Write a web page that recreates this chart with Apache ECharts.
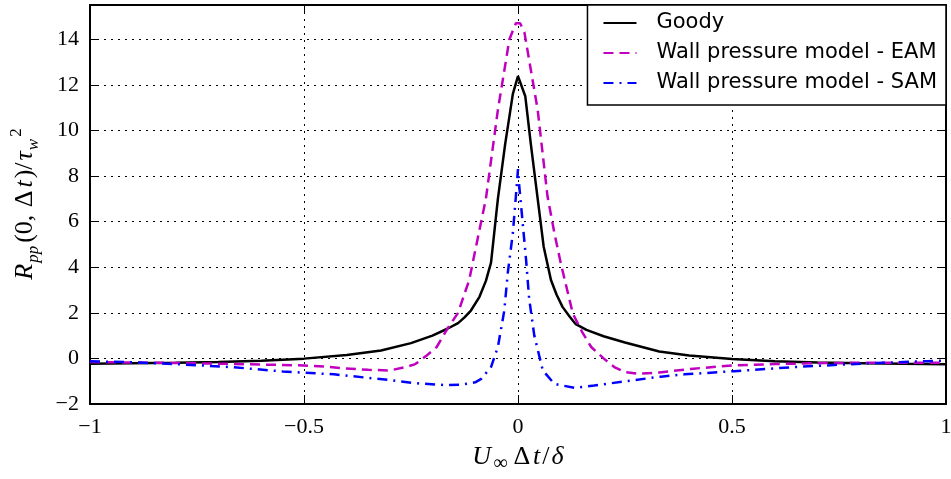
<!DOCTYPE html>
<html>
<head>
<meta charset="utf-8">
<script src="https://cdn.jsdelivr.net/npm/echarts@6/dist/echarts.min.js"></script>
<style>
  html, body { margin: 0; padding: 0; background: #fff; }
  #chart { width: 951px; height: 479px; }
</style>
</head>
<body>
<div id="chart"></div>
<script>
// series names
var seriesNames = ['Goody', 'Wall pressure model - EAM', 'Wall pressure model - SAM'];

// Goody
var goodyX = [-1, -0.9, -0.8, -0.7, -0.6, -0.5, -0.4, -0.32, -0.25, -0.2, -0.165, -0.14, -0.125, -0.11, -0.09, -0.075, -0.063, -0.047, -0.03, -0.012, 0,
    0.017, 0.03, 0.046, 0.06, 0.077, 0.09, 0.104, 0.12, 0.135, 0.16, 0.2, 0.25, 0.33, 0.4, 0.5, 0.6, 0.7, 0.8, 0.9, 1];
var goodyY = [-0.23, -0.21, -0.19, -0.16, -0.1, -0.01, 0.15, 0.35, 0.67, 1.0, 1.3, 1.55, 1.8, 2.1, 2.7, 3.4, 4.2, 7.0, 9.4, 11.6, 12.38,
    11.5, 9.4, 7.0, 4.9, 3.44, 2.8, 2.26, 1.85, 1.5, 1.25, 0.97, 0.7, 0.3, 0.13, -0.03, -0.12, -0.18, -0.21, -0.24, -0.26];

// EAM
var eamX = [-1, -0.9, -0.8, -0.7, -0.6, -0.5, -0.45, -0.41, -0.35, -0.3, -0.26, -0.24, -0.215, -0.19, -0.165, -0.14, -0.114, -0.09, -0.075, -0.047, -0.02, -0.005,
    0.005, 0.015, 0.046, 0.069, 0.085, 0.1, 0.128, 0.15, 0.171, 0.2, 0.225, 0.25, 0.28, 0.33, 0.41, 0.5, 0.6, 0.72, 0.85, 1];
var eamY = [-0.16, -0.18, -0.2, -0.23, -0.27, -0.31, -0.36, -0.43, -0.5, -0.53, -0.37, -0.25, 0.1, 0.5, 1.3, 2.0, 3.44, 5.64, 7.0, 10.9, 14.0, 14.7,
    14.7, 14.3, 10.9, 7.1, 5.5, 4.17, 1.97, 1.15, 0.5, 0.0, -0.38, -0.6, -0.67, -0.62, -0.45, -0.31, -0.25, -0.2, -0.19, -0.19];

// SAM
var samX = [-1, -0.92, -0.79, -0.67, -0.55, -0.43, -0.305, -0.24, -0.172, -0.133, -0.1, -0.086, -0.063, -0.047, -0.032, -0.024, -0.012, -0.005, 0,
    0.003, 0.011, 0.019, 0.026, 0.038, 0.058, 0.085, 0.132, 0.178, 0.264, 0.334, 0.389, 0.505, 0.646, 0.801, 0.957, 1];
var samY = [-0.13, -0.16, -0.26, -0.38, -0.57, -0.7, -0.94, -1.09, -1.17, -1.15, -1.05, -0.9, -0.38, 0.5, 2.1, 3.73, 5.5, 7.1, 8.3,
    7.55, 5.93, 4.3, 2.63, 1.01, -0.53, -1.12, -1.29, -1.19, -0.97, -0.8, -0.7, -0.56, -0.38, -0.23, -0.12, -0.1];

function zip(xs, ys) {
    var out = [];
    for (var i = 0; i < xs.length; i++) {
        out.push([xs[i], ys[i]]);
    }
    return out;
}

function fmtNum(v) {
    if (v < 0) {
        return '\u2212' + Math.abs(v);
    }
    return '' + v;
}

var serif = 'Liberation Serif';

// rich styles for the math axis titles
var mathRich = {
    i: { fontFamily: serif, fontStyle: 'italic', fontSize: 26, color: '#000', lineHeight: 34, padding: [0, 1, 0, 1] },
    n: { fontFamily: serif, fontSize: 26, color: '#000', lineHeight: 34, padding: [0, 1, 0, 1] },
    d: { fontFamily: serif, fontSize: 26, color: '#000', lineHeight: 34, padding: [0, 2, 0, 3] },
    s: { fontFamily: serif, fontStyle: 'italic', fontSize: 17, color: '#000', lineHeight: 17, verticalAlign: 'bottom', padding: [0, 2, 0, 0] },
    inf: { fontFamily: serif, fontSize: 20, color: '#000', lineHeight: 17, verticalAlign: 'bottom', padding: [0, 3, 0, 1] },
    p: { fontFamily: serif, fontSize: 17, color: '#000', lineHeight: 17, verticalAlign: 'top' }
};

var chart = echarts.init(document.getElementById('chart'));

var option = {
    animation: false,
    backgroundColor: '#fff',
    grid: {
        left: 90,
        right: 5,
        top: 5,
        bottom: 75,
        outerBoundsMode: 'none'
    },
    legend: {
        orient: 'vertical',
        right: 5,
        top: 5,
        data: seriesNames,
        backgroundColor: '#fff',
        borderColor: '#000',
        borderWidth: 1.5,
        borderRadius: 0,
        padding: [6, 9, 10, 15],
        itemWidth: 33,
        itemHeight: 14,
        itemGap: 6,
        itemStyle: { opacity: 0 },
        textStyle: {
            fontFamily: 'DejaVu Sans',
            fontSize: 21,
            color: '#000',
            lineHeight: 24,
            padding: [0, 0, 0, 15]
        }
    },
    xAxis: [
        {
            type: 'value',
            min: -1,
            max: 1,
            interval: 0.5,
            name: '{i|U}{inf|\u221e}{d|\u0394}{i|t}{n|/}{i|\u03b4}',
            nameLocation: 'middle',
            nameGap: 36,
            nameTextStyle: { rich: mathRich },
            axisLine: { onZero: false, lineStyle: { color: '#000', width: 2 } },
            axisTick: { inside: true, length: 9, lineStyle: { color: '#000', width: 1 } },
            axisLabel: {
                margin: 12,
                fontFamily: serif,
                fontSize: 22,
                color: '#000',
                formatter: fmtNum
            },
            splitLine: { show: true, lineStyle: { color: '#000', width: 1, type: [2, 5] } }
        },
        {
            type: 'value',
            position: 'top',
            min: -1,
            max: 1,
            interval: 0.5,
            axisLine: { onZero: false, lineStyle: { color: '#000', width: 2 } },
            axisTick: { inside: true, length: 9, lineStyle: { color: '#000', width: 1 } },
            axisLabel: { show: false },
            splitLine: { show: false }
        }
    ],
    yAxis: [
        {
            type: 'value',
            min: -2,
            max: 15.5,
            interval: 2,
            name: '{i|R}{s|pp}{n|(0,} {d|\u0394}{i|t}{n|)/}{i|\u03c4}{s|w}{p|2}',
            nameLocation: 'middle',
            nameGap: 48,
            nameTextStyle: { rich: mathRich },
            axisLine: { onZero: false, lineStyle: { color: '#000', width: 2 } },
            axisTick: { inside: true, length: 9, lineStyle: { color: '#000', width: 1 } },
            axisLabel: {
                margin: 11,
                fontFamily: serif,
                fontSize: 22,
                color: '#000',
                showMaxLabel: false,
                formatter: fmtNum
            },
            splitLine: { show: true, lineStyle: { color: '#000', width: 1, type: [2, 5] } }
        },
        {
            type: 'value',
            position: 'right',
            min: -2,
            max: 15.5,
            interval: 2,
            axisLine: { onZero: false, lineStyle: { color: '#000', width: 2 } },
            axisTick: { inside: true, length: 9, lineStyle: { color: '#000', width: 1 } },
            axisLabel: { show: false },
            splitLine: { show: false }
        }
    ],
    series: [
        {
            name: seriesNames[0],
            type: 'line',
            symbol: 'none',
            data: zip(goodyX, goodyY),
            lineStyle: { color: '#000', width: 2.5 },
            itemStyle: { color: '#000' }
        },
        {
            name: seriesNames[1],
            type: 'line',
            symbol: 'none',
            data: zip(eamX, eamY),
            lineStyle: { color: '#bf00bf', width: 2.5, type: [10, 6] },
            itemStyle: { color: '#bf00bf' }
        },
        {
            name: seriesNames[2],
            type: 'line',
            symbol: 'none',
            data: zip(samX, samY),
            lineStyle: { color: '#0000ff', width: 2.5, type: [10, 6, 2, 6] },
            itemStyle: { color: '#0000ff' }
        }
    ]
};

chart.setOption(option);
</script>
</body>
</html>
